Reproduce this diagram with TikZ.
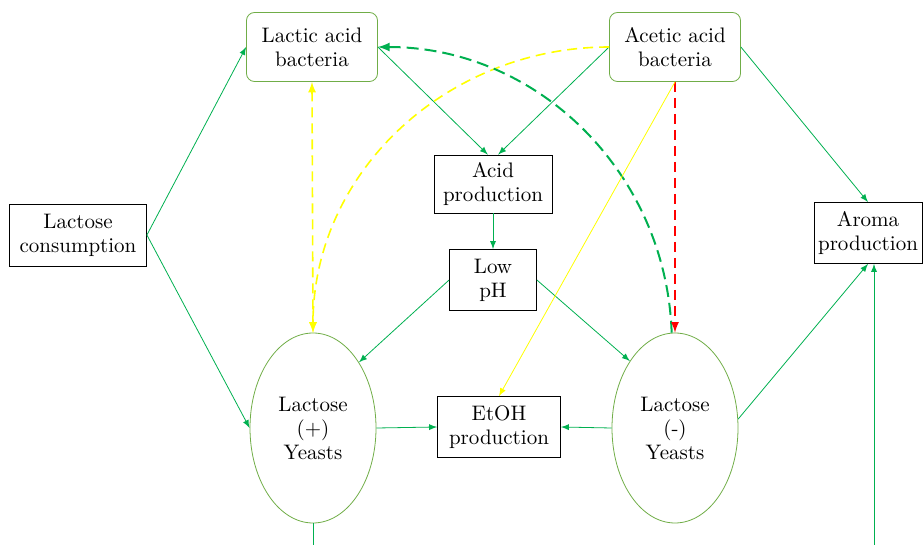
\documentclass[tikz,border=0pt]{standalone}
\usetikzlibrary{shapes.geometric}
\definecolor{arrgreen}{HTML}{00B050}
\definecolor{boxgreen}{HTML}{70AD47}
\definecolor{ylw}{HTML}{FFFF00}
\definecolor{rd}{HTML}{FF0000}
\tikzset{
  txt/.style={font=\fontsize{10.5}{12}\selectfont, align=center, inner sep=0pt},
  bact/.style={txt, draw=boxgreen, rounded corners=4pt, minimum width=65.5pt, minimum height=34.5pt},
  proc/.style={txt, draw, minimum height=30.5pt},
  yeast/.style={txt, draw=boxgreen, ellipse, minimum width=63pt, minimum height=95pt},
  flow/.style={->, arrgreen},
}
\begin{document}
\begin{tikzpicture}[x=0.5pt, y=-0.5pt, >=latex]
  \useasboundingbox (0,0) rectangle (923,545);
  \node[bact] (lab) at (312,47) {Lactic acid\\bacteria};
  \node[bact] (aab) at (675,47) {Acetic acid\\bacteria};
  \node[proc, minimum width=68.5pt, minimum height=31pt] (lcons) at (78,235) {Lactose\\consumption};
  \node[proc, minimum width=59pt, minimum height=29pt] (acid) at (493,184) {Acid\\production};
  \node[proc, minimum width=43.5pt] (lowph) at (493,280) {Low\\pH};
  \node[proc, minimum width=54pt] (aroma) at (868,233) {Aroma\\production};
  \node[proc, minimum width=61.5pt] (etoh) at (499,427) {EtOH\\production};
  \node[yeast] (lplus) at (313,428) {Lactose\\(+)\\Yeasts};
  \node[yeast] (lminus) at (675,428) {Lactose\\(-)\\Yeasts};
  \coordinate (lpbot) at (313,545);
  \coordinate (arbot) at (874,545);
  % solid links
  \draw[flow] (lcons.east) -- (lab.west);
  \draw[flow] (lcons.east) -- (lplus.west);
  \draw[flow] (lab.east) -- (acid.100);
  \draw[flow] (aab.west) -- (acid.80);
  \draw[flow] (aab.east) -- (aroma.north);
  \draw[flow] (acid.south) -- (lowph.north);
  \draw[flow] (lowph.west) -- (lplus.55);
  \draw[flow] (lowph.east) -- (lminus.124);
  \draw[flow] (lplus.east) -- (etoh.west);
  \draw[flow] (lminus.west) -- (etoh.east);
  \draw[flow] (lminus.8) -- (aroma.south);
  \draw[flow] (arbot) -- (arbot |- aroma.south);
  \draw[arrgreen] (lplus.south) -- (lpbot);
  % dashed links
  \draw[<->, ylw, line width=0.8pt, dash pattern=on 5pt off 3pt] (lab.south) -- (lplus.north);
  \draw[->, ylw, line width=0.8pt, dash pattern=on 5pt off 3pt] (aab.west) to[out=180, in=90] (lplus.north);
  \draw[->, arrgreen, line width=1pt, dash pattern=on 6pt off 3pt] (lminus.92) to[out=92, in=0] (lab.east);
  \draw[->, rd, line width=0.8pt, dash pattern=on 5pt off 3pt] (aab.south) -- (lminus.north);
  \draw[->, ylw] (aab.south) -- (etoh.north);
\end{tikzpicture}
\end{document}
